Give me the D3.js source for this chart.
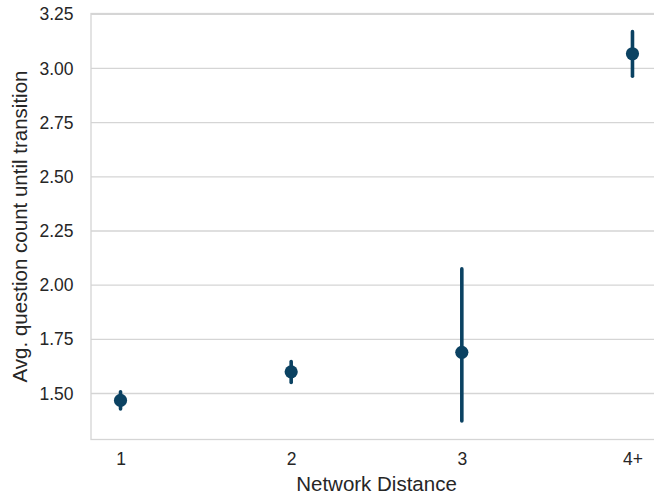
<!DOCTYPE html>
<html>
<head>
<meta charset="utf-8">
<script src="https://cdn.jsdelivr.net/npm/d3@7/dist/d3.min.js"></script>
<style>
  html, body { margin: 0; padding: 0; background: #ffffff; }
  svg { display: block; }
  text { font-family: "Liberation Sans", Arial, Helvetica, sans-serif; fill: #262626; }
</style>
</head>
<body>
<svg id="chart" width="654" height="495"></svg>
<script>
// Mean question count until transition, with 95% confidence intervals
const categories = ["1", "2", "3", "4+"];
const means      = [1.468, 1.600, 1.690, 3.068];
const ciLow      = [1.429, 1.551, 1.373, 2.964];
const ciHigh     = [1.508, 1.648, 2.075, 3.170];
const yTicks     = [1.50, 1.75, 2.00, 2.25, 2.50, 2.75, 3.00, 3.25];

const W = 654, H = 495;
const margin = { left: 91, right: -8, top: 13.5, bottom: 55.5 };
const plotW = W - margin.left - margin.right;
const plotH = H - margin.top - margin.bottom;

const svg = d3.select("#chart");
const g = svg.append("g").attr("transform", `translate(${margin.left},${margin.top})`);

// category index scale, padded a little beyond the first and last category
const xIdx = d3.scaleLinear().domain([-0.173, categories.length - 1 + 0.173]).range([0, plotW]);
const y = d3.scaleLinear().domain([1.2877, 3.2537]).range([plotH, 0]);

const gridColor = "#d5d5d5";

// horizontal grid
g.append("g")
  .selectAll("line")
  .data(yTicks)
  .join("line")
  .attr("x1", 0).attr("x2", plotW)
  .attr("y1", d => y(d)).attr("y2", d => y(d))
  .attr("stroke", gridColor).attr("stroke-width", 1.3);

// frame
g.append("rect")
  .attr("x", 0).attr("y", 0).attr("width", plotW).attr("height", plotH)
  .attr("fill", "none").attr("stroke", gridColor).attr("stroke-width", 1.3);

// y axis
const yAxis = d3.axisLeft(y).tickValues(yTicks).tickFormat(d3.format(".2f")).tickSize(0).tickPadding(17.5);
const ya = g.append("g").call(yAxis);
ya.select(".domain").remove();
ya.selectAll("text").style("font-size", "17.5px").attr("fill", "#262626");

// x axis
const xa = g.append("g").attr("transform", `translate(0,${plotH})`)
  .call(d3.axisBottom(xIdx).tickValues(d3.range(categories.length)).tickFormat(i => categories[i]).tickSize(0).tickPadding(13));
xa.select(".domain").remove();
xa.selectAll("text").style("font-size", "17.5px").attr("fill", "#262626");

const color = "#0b4262";

// confidence interval bars
g.append("g")
  .selectAll("line")
  .data(categories)
  .join("line")
  .attr("x1", (d, i) => xIdx(i)).attr("x2", (d, i) => xIdx(i))
  .attr("y1", (d, i) => y(ciLow[i])).attr("y2", (d, i) => y(ciHigh[i]))
  .attr("stroke", color).attr("stroke-width", 3.6).attr("stroke-linecap", "round");

// mean markers
g.append("g")
  .selectAll("circle")
  .data(categories)
  .join("circle")
  .attr("cx", (d, i) => xIdx(i))
  .attr("cy", (d, i) => y(means[i]))
  .attr("r", 6.6)
  .attr("fill", color);

// axis titles
svg.append("text")
  .attr("x", margin.left + plotW / 2)
  .attr("y", 490.5)
  .attr("text-anchor", "middle")
  .style("font-size", "20.5px")
  .text("Network Distance");

svg.append("text")
  .attr("transform", `translate(27,${margin.top + plotH / 2}) rotate(-90)`)
  .attr("text-anchor", "middle")
  .style("font-size", "20.5px")
  .text("Avg. question count until transition");
</script>
</body>
</html>
